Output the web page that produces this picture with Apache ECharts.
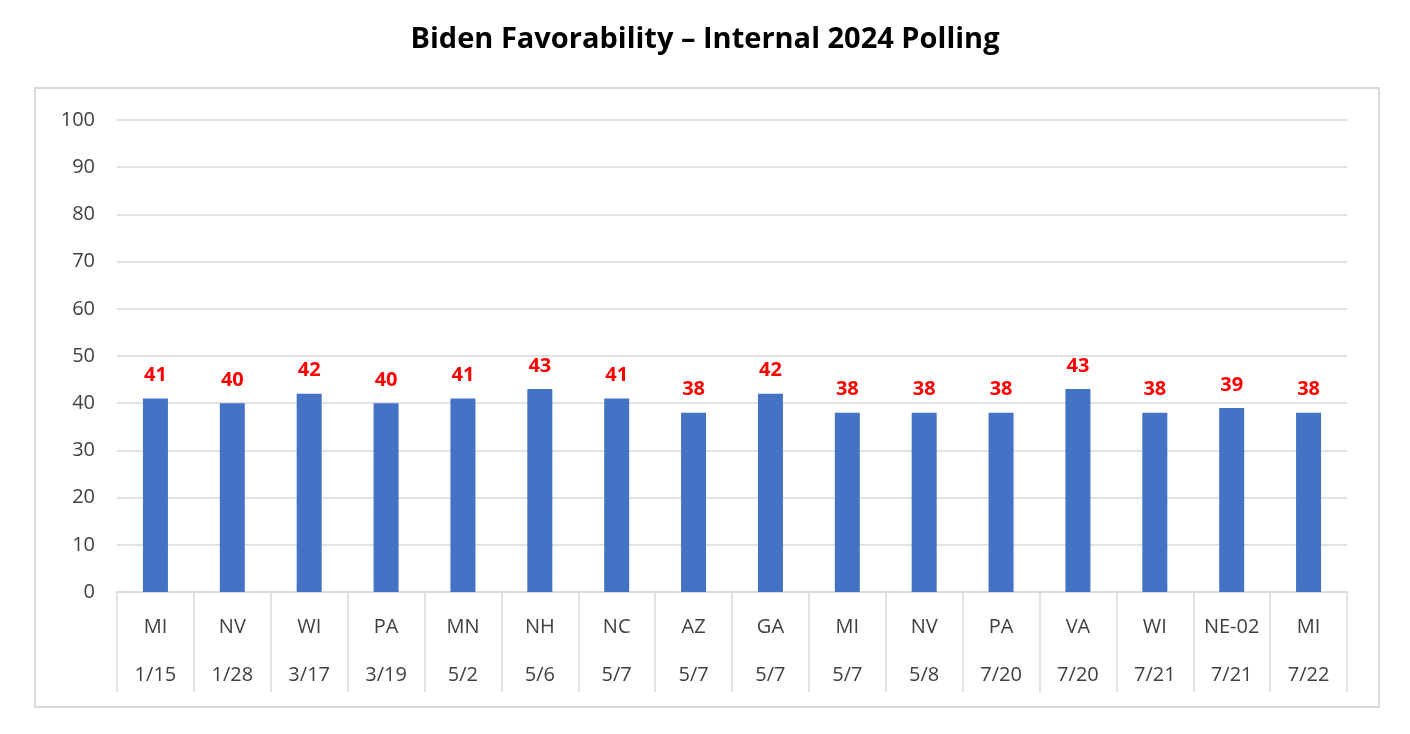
<!DOCTYPE html>
<html>
<head>
<meta charset="utf-8">
<script src="https://cdn.jsdelivr.net/npm/echarts@6/dist/echarts.min.js"></script>
<style>
  html, body { margin: 0; padding: 0; background: #fff; }
  #chart { width: 1410px; height: 734px; }
</style>
</head>
<body>
<div id="chart"></div>
<script>
// poll data
const states = ['MI', 'NV', 'WI', 'PA', 'MN', 'NH', 'NC', 'AZ', 'GA', 'MI', 'NV', 'PA', 'VA', 'WI', 'NE-02', 'MI'];
const dates = ['1/15', '1/28', '3/17', '3/19', '5/2', '5/6', '5/7', '5/7', '5/7', '5/7', '5/8', '7/20', '7/20', '7/21', '7/21', '7/22'];
const favorability = [41, 40, 42, 40, 41, 43, 41, 38, 42, 38, 38, 38, 43, 38, 39, 38];

const categories = states.map((s, i) => s + '\n' + dates[i]);

const chart = echarts.init(document.getElementById('chart'));

chart.setOption({
    animation: false,
    textStyle: { fontFamily: 'Open Sans' },
    title: {
        text: 'Biden Favorability \u2013 Internal 2024 Polling',
        left: 'center',
        top: 20,
        textStyle: { fontSize: 29, fontWeight: 'bold', color: '#000', fontFamily: 'Open Sans' }
    },
    graphic: [{
        type: 'rect',
        shape: { x: 35, y: 88, width: 1344, height: 619 },
        style: { fill: 'none', stroke: '#d9d9d9', lineWidth: 2 },
        z: -1
    }],
    grid: { left: 117, right: 63, top: 120, bottom: 142 },
    xAxis: {
        type: 'category',
        data: categories,
        axisLine: { lineStyle: { color: '#d9d9d9', width: 1.5 } },
        axisTick: { show: true, interval: 0, length: 100, lineStyle: { color: '#d9d9d9', width: 1.5 } },
        axisLabel: {
            interval: 0,
            margin: 11,
            color: '#404040',
            fontSize: 20,
            lineHeight: 48
        }
    },
    yAxis: {
        type: 'value',
        min: 0,
        max: 100,
        interval: 10,
        axisLine: { show: false },
        axisTick: { show: false },
        axisLabel: { color: '#404040', fontSize: 20, margin: 22 },
        splitLine: { lineStyle: { color: '#d9d9d9', width: 1.5 } }
    },
    series: [{
        type: 'bar',
        data: favorability,
        barWidth: 25,
        itemStyle: { color: '#4472C4' },
        label: {
            show: true,
            position: 'top',
            distance: 13,
            color: '#ff0000',
            fontWeight: 'bold',
            fontSize: 20
        }
    }]
});
</script>
</body>
</html>
